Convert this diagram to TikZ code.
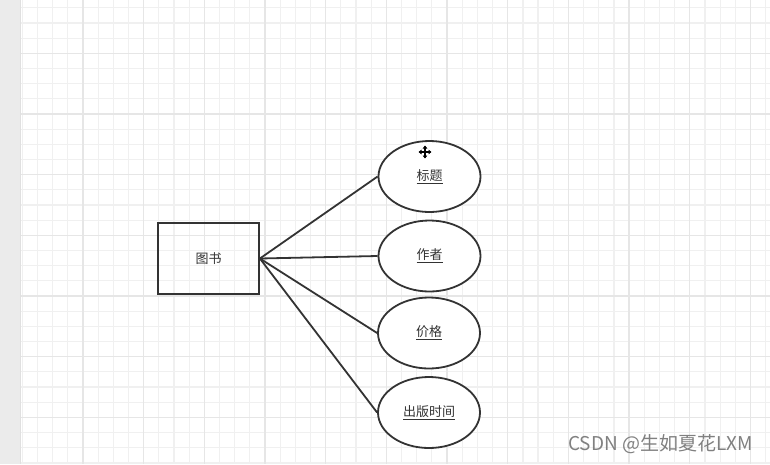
\documentclass[tikz,border=0pt]{standalone}
\usepackage{fontspec}
\newfontfamily\cjk{Noto Sans CJK SC}
\usetikzlibrary{shapes.geometric, arrows.meta}
\definecolor{trazo}{HTML}{333333}
\definecolor{rejilla}{HTML}{F0F0F0}
\definecolor{rejillab}{HTML}{E6E6E6}

\begin{document}
\begin{tikzpicture}[x=1pt, y=-1pt,
  entidad/.style={draw=trazo, line width=1.8pt, minimum width=101pt, minimum height=71pt, inner sep=0pt, text=trazo, font=\cjk\fontsize{13}{13}\selectfont},
  atributo/.style={ellipse, draw=trazo, line width=1.8pt, minimum width=102pt, minimum height=71pt, inner sep=0pt, fill=white, text=trazo, font=\cjk\fontsize{13}{13}\selectfont},
  enlace/.style={draw=trazo, line width=1.8pt}]
\useasboundingbox (0,0) rectangle (770,464);
% Fondo y cuadricula
\fill[white] (0,0) rectangle (770,464);
\foreach \i in {0,...,49} \draw[rejilla, line width=1.2pt] ({22.3+15.17*\i},0) -- ({22.3+15.17*\i},464);
\foreach \j in {0,...,30} \draw[rejilla, line width=1.2pt] (20,{7.8+15.17*\j}) -- (770,{7.8+15.17*\j});
\foreach \i in {0,...,11} \draw[rejillab, line width=1.4pt] ({83+60.67*\i},0) -- ({83+60.67*\i},464);
\foreach \j in {0,...,6} \draw[rejillab, line width=1.4pt] (20,{53.3+60.67*\j}) -- (770,{53.3+60.67*\j});
\fill[black!8] (0,0) rectangle (20,464);
\draw[black!12, line width=0.8pt] (20,0) -- (20,464);
% Entidad y atributos
\node[entidad] (libro) at (208.5,258.5) {图书};
\node[atributo] (titulo) at (429.5,176.5) {\underline{标题}};
\node[atributo] (autor) at (429.5,256) {\underline{作者}};
\node[atributo] (precio) at (429,333) {\underline{价格}};
\node[atributo] (fecha) at (429,412.5) {\underline{出版时间}};
\draw[enlace] (libro.east) -- (titulo.west);
\draw[enlace] (libro.east) -- (autor.west);
\draw[enlace] (libro.east) -- (precio.west);
\draw[enlace] (libro.east) -- (fecha.west);
% Cursor de mover
\draw[black, line width=1.2pt, {Triangle[length=3pt,width=4.5pt]}-{Triangle[length=3pt,width=4.5pt]}] (418.5,152) -- (431.5,152);
\draw[black, line width=1.2pt, {Triangle[length=3pt,width=4.5pt]}-{Triangle[length=3pt,width=4.5pt]}] (425,145.5) -- (425,158.5);
% Marca de agua
\node[text=black!50, font=\cjk\fontsize{19}{19}\selectfont, inner sep=0pt] (marca) at (660.5,444) {CSDN @生如夏花LXM};
\end{tikzpicture}
\end{document}
